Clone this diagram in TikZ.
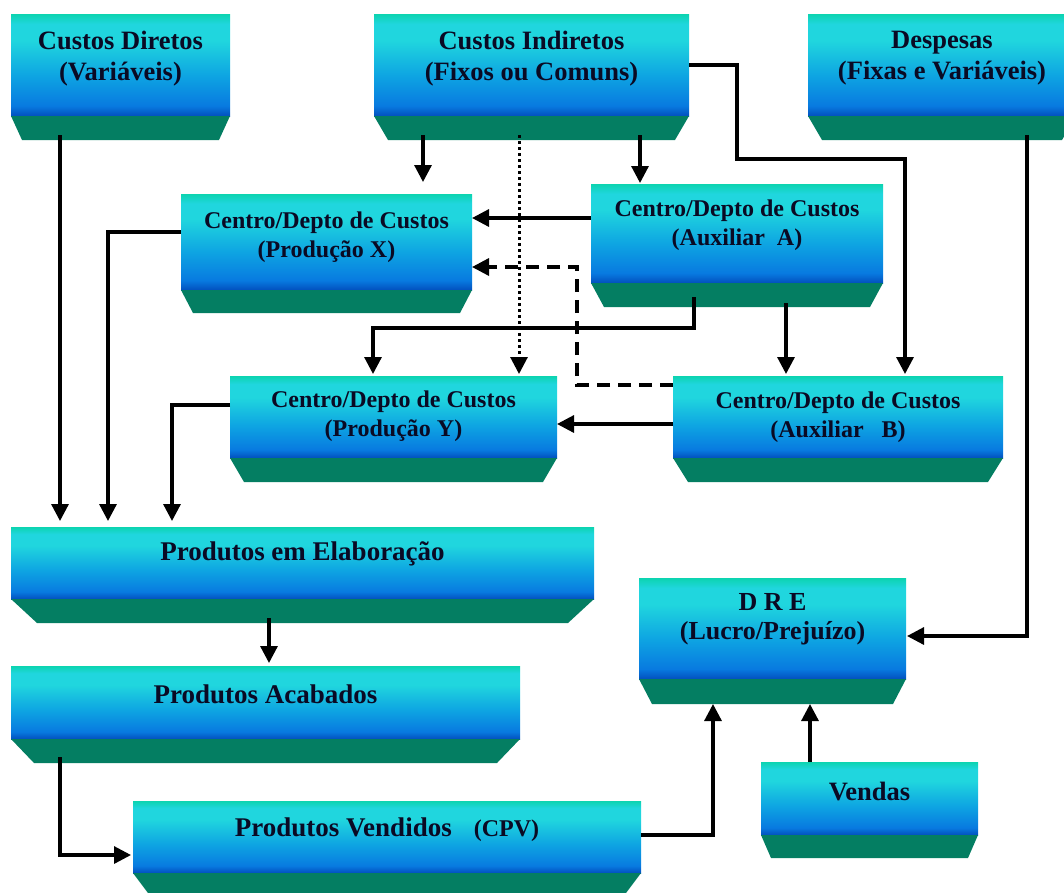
\documentclass[tikz,border=0pt]{standalone}
\usepackage{fontspec}
\setmainfont{Liberation Serif}
\usetikzlibrary{calc,arrows.meta}

% panel colours
\definecolor{pteal}{RGB}{12,212,176}
\definecolor{pcyan}{RGB}{32,214,222}
\definecolor{pmid}{RGB}{14,165,226}
\definecolor{pblue}{RGB}{8,122,224}
\definecolor{pdeep}{RGB}{2,80,190}
\definecolor{pbase}{RGB}{4,126,98}
\definecolor{ink}{RGB}{10,10,36}

% teal top, cyan band, fading into deep blue at the bottom
\pgfdeclareverticalshading{panelshade}{100bp}{%
  color(0bp)=(pdeep); color(25bp)=(pdeep); color(30bp)=(pblue);
  color(45bp)=(pmid); color(62bp)=(pcyan); color(70bp)=(pcyan);
  color(75bp)=(pteal); color(100bp)=(pteal)}

\tikzset{
  panel/.style={shade, shading=panelshade, inner sep=0pt, outer sep=0pt, draw=none},
  lbl/.style={font=\bfseries\fontsize{26.5}{31}\selectfont, text=ink, align=center, inner sep=0pt},
  lblw/.style={lbl, font=\bfseries\fontsize{27}{31}\selectfont},
  lblc/.style={font=\bfseries\fontsize{24}{29}\selectfont, text=ink, align=center, inner sep=0pt},
  flow/.style={line width=3.2pt, -{Triangle[length=17pt,width=17pt]}},
  flowdash/.style={flow, dash pattern=on 13pt off 8pt, line width=3.4pt},
  flowdot/.style={flow, dash pattern=on 3pt off 3pt, line width=3pt},
}

% panel with a green bevelled base:
% #1 name, #2 x1, #3 y1, #4 x2, #5 y2, #6 base height, #7 base inset
\newcommand\shelfpanel[7]{%
  \node[panel, anchor=north west, minimum width={(#4)-(#2)}, minimum height={(#5)-(#3)}]
    (#1) at (#2,#3) {};
  \fill[pbase] (#1.south west) -- (#1.south east)
    -- ($(#1.south east)+(-#7,#6)$) -- ($(#1.south west)+(#7,#6)$) -- cycle;
}

\begin{document}
\begin{tikzpicture}[x=1pt, y=-1pt]
\useasboundingbox (0,0) rectangle (1064,892);
\begin{scope}
\clip (0,0) rectangle (1064,892);

% panels
\shelfpanel{cd}{11}{14}{230}{116}{24}{11}
\shelfpanel{ci}{374}{14}{689}{116}{24}{14}
\shelfpanel{dp}{808}{14}{1076}{116}{24}{14}
\shelfpanel{px}{181}{194}{472}{290}{23}{12}
\shelfpanel{aa}{591}{184}{883}{283}{24}{13}
\shelfpanel{py}{230}{376}{557}{458}{24}{14}
\shelfpanel{ab}{673}{376}{1003}{458}{24}{15}
\shelfpanel{pe}{11}{527}{594}{599}{24}{26}
\shelfpanel{pa}{11}{666}{520}{739}{24}{23}
\shelfpanel{pv}{133}{801}{641}{873}{24}{18}
\shelfpanel{dre}{639}{578}{906}{679}{25}{13}
\shelfpanel{ve}{761}{762}{978}{835}{23}{10}

% labels
\node[lbl] (cd-t) at ($(cd.center)+(0,-6.5)$) {Custos Diretos\\(Variáveis)};
\node[lbl] (ci-t) at ($(ci.center)+(0,-6.5)$) {Custos Indiretos\\(Fixos ou Comuns)};
\node[lbl] (dp-t) at ($(dp.center)+(0,-6.5)$) {Despesas\\(Fixas e Variáveis)};
\node[lblc] (px-t) at ($(px.center)+(0,-5)$) {Centro/Depto de Custos\\(Produção X)};
\node[lblc] (aa-t) at ($(aa.center)+(0,-8)$) {Centro/Depto de Custos\\(Auxiliar\ \ A)};
\node[lblc] (py-t) at ($(py.center)+(0,-1)$) {Centro/Depto de Custos\\(Produção Y)};
\node[lblc] (ab-t) at ($(ab.center)+(0,0)$) {Centro/Depto de Custos\\(Auxiliar\ \ \ B)};
\node[lblw] (pe-t) at ($(pe.center)+(0,-9)$) {Produtos em Elaboração};
\node[lblw] (pa-t) at ($(pa.center)+(0,-8.5)$) {Produtos Acabados};
\node[lblw] (pv-t) at ($(pv.center)+(0,-7)$) {Produtos Vendidos\hspace{22pt}{\fontsize{24}{28}\selectfont(CPV)}};
\node[lbl, font=\bfseries\fontsize{26}{29}\selectfont] (dre-t) at ($(dre.center)+(0,-9)$) {D R E\\(Lucro/Prejuízo)};
\node[lbl] (ve-t) at ($(ve.center)+(0,-7.5)$) {Vendas};

% connectors
\draw[flow] ($(cd.south west)+(49,19)$) -- ($(pe.north west)+(49,-6)$);
\draw[flow] ($(ci.south west)+(49,19)$) -- ($(px.north west)+(242,-12)$);
\draw[flowdot] ($(ci.south west)+(145,19)$) -- ($(py.north west)+(289,-2)$);
\draw[flow] ($(ci.south west)+(266,19)$) -- ($(aa.north west)+(49,-1)$);
\draw[flow] (ci.east) -- ++(48,0) -- ++(0,94) -| ($(ab.north west)+(232,-2)$);
\draw[flow] ($(aa.north west)+(0,34)$) -- ($(px.north east)+(0,24)$);
\draw[flowdash] ($(ab.north west)+(0,9)$) -- ++(-96,0) |- ($(px.north east)+(0,73)$);
\draw[flow] ($(aa.south west)+(103,14)$) -- ++(0,31) -| ($(py.north west)+(143,-2)$);
\draw[flow] ($(aa.south west)+(195,20)$) -- ($(ab.north west)+(113,-2)$);
\draw[flow] ($(ab.north west)+(0,48)$) -- ($(py.north east)+(0,48)$);
\draw[flow] ($(px.north west)+(0,38)$) -| ($(pe.north west)+(97,-6)$);
\draw[flow] ($(py.north west)+(0,29)$) -| ($(pe.north west)+(161,-6)$);
\draw[flow] ($(pe.south west)+(258,19)$) -- ($(pa.north west)+(258,-3)$);
\draw[flow] ($(pa.south west)+(49,18)$) |- ($(pv.north west)+(-2,54)$);
\draw[flow] ($(pv.north east)+(0,34)$) -| ($(dre.south west)+(74,25)$);
\draw[flow] (ve.north west) ++(49,0) -- ($(dre.south west)+(171,25)$);
\draw[flow] ($(dp.south west)+(219,19)$) |- ($(dre.north east)+(1,58)$);
\end{scope}
\end{tikzpicture}
\end{document}
